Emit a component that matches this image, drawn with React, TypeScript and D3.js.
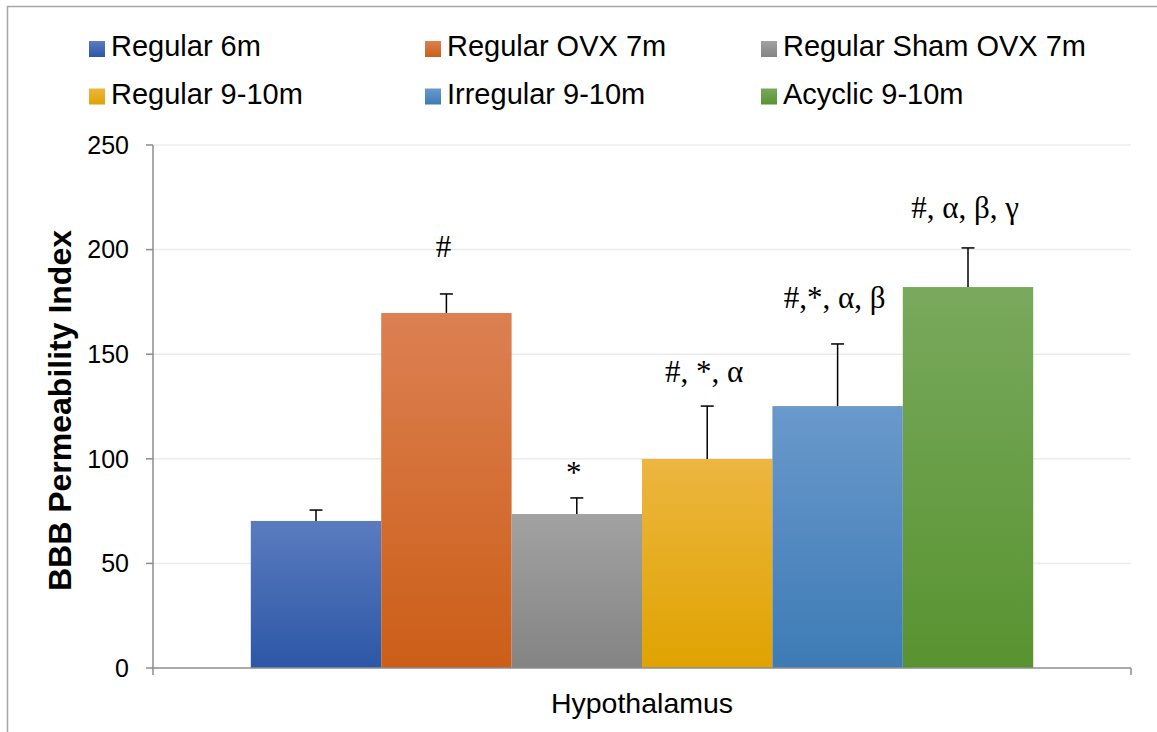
import * as d3 from 'd3';

const region = ['Hypothalamus'];
const groups = [
  'Regular 6m',
  'Regular OVX 7m',
  'Regular Sham OVX 7m',
  'Regular 9-10m',
  'Irregular 9-10m',
  'Acyclic 9-10m',
];
const means = [70.3, 169.7, 73.6, 99.9, 125.2, 182.1];
const errors = [5.2, 9.1, 7.7, 25.3, 29.7, 18.7];
const marks = ['', '#', '*', '#, *, α', '#,*, α, β', '#, α, β, γ'];
const markAt = [0, 196.5, 88.4, 136.7, 172, 215];
const yTicks = [0, 50, 100, 150, 200, 250];

// gradient stops per series, top then bottom
const colorsTop = ['#5a7bbf', '#dc8052', '#a2a2a2', '#ecb640', '#6a99cc', '#79a95d'];
const colorsBottom = ['#2c57a6', '#cc5e17', '#848484', '#e0a300', '#3d7bb5', '#589330'];

const width = 1157;
const height = 732;
const margin = { top: 145, right: 26, bottom: 64, left: 153 };

export default function App() {
  const x0 = d3
    .scaleBand()
    .domain(region)
    .range([margin.left, width - margin.right])
    .paddingOuter(0.125);

  const x1 = d3.scaleBand().domain(groups).range([0, x0.bandwidth()]).padding(0);

  const y = d3
    .scaleLinear()
    .domain([0, 250])
    .range([height - margin.bottom, margin.top]);

  const sans = '"Liberation Sans", Arial, sans-serif';
  const serif = '"Liberation Serif", "Times New Roman", serif';
  const y0 = y(0);
  const xLeft = margin.left;
  const xRight = width - margin.right;

  return (
    <div style={{ position: 'absolute', left: 0, top: 0 }}>
      <svg width={width} height={height} style={{ display: 'block' }}>
        <defs>
          {groups.map((g, i) => (
            <linearGradient key={g} id={`grad${i}`} x1='0' y1='0' x2='0' y2='1'>
              <stop offset='0%' stopColor={colorsTop[i]} />
              <stop offset='100%' stopColor={colorsBottom[i]} />
            </linearGradient>
          ))}
        </defs>

        {/* outer frame */}
        <rect x={7.5} y={6.5} width={1300} height={900} fill='#fff' stroke='#a6a6a6' strokeWidth={1.5} />

        {/* legend */}
        {groups.map((g, i) => {
          const col = i % 3;
          const row = Math.floor(i / 3);
          const lx = 89 + col * 336;
          const ly = 56 + row * 47.5;
          return (
            <g key={g}>
              <rect x={lx} y={ly - 15} width={16} height={16} fill={`url(#grad${i})`} />
              <text x={lx + 22} y={ly} fontFamily={sans} fontSize={29} fill='#000'>
                {g}
              </text>
            </g>
          );
        })}

        {/* gridlines */}
        {yTicks
          .filter((t) => t > 0)
          .map((t) => (
            <line key={t} x1={xLeft} x2={xRight} y1={y(t)} y2={y(t)} stroke='#ececec' strokeWidth={1.5} />
          ))}

        {/* bars */}
        {groups.map((g, i) => {
          const bx = x0(region[0])! + x1(g)!;
          return (
            <rect
              key={g}
              x={bx}
              y={y(means[i])}
              width={x1.bandwidth()}
              height={y0 - y(means[i])}
              fill={`url(#grad${i})`}
            />
          );
        })}

        {/* error bars */}
        {groups.map((g, i) => {
          const cx = x0(region[0])! + x1(g)! + x1.bandwidth() / 2;
          const top = y(means[i] + errors[i]);
          return (
            <g key={g} stroke='#000' strokeWidth={1.5}>
              <line x1={cx} x2={cx} y1={y(means[i])} y2={top} />
              <line x1={cx - 6.5} x2={cx + 6.5} y1={top} y2={top} />
            </g>
          );
        })}

        {/* significance marks */}
        {groups.map((g, i) =>
          marks[i] ? (
            <text
              key={g}
              x={x0(region[0])! + x1(g)! + x1.bandwidth() / 2 - 3}
              y={y(markAt[i])}
              textAnchor='middle'
              fontFamily={serif}
              fontSize={31}
              fill='#000'
            >
              {marks[i]}
            </text>
          ) : null
        )}

        {/* y axis */}
        <line x1={xLeft} x2={xLeft} y1={y(250)} y2={y0 + 7} stroke='#8c8c8c' strokeWidth={1.5} />
        {yTicks.map((t) => (
          <g key={t}>
            <line x1={xLeft - 7} x2={xLeft} y1={y(t)} y2={y(t)} stroke='#8c8c8c' strokeWidth={1.5} />
            <text
              x={xLeft - 24}
              y={y(t)}
              dy='0.35em'
              textAnchor='end'
              fontFamily={sans}
              fontSize={25}
              fill='#000'
            >
              {t}
            </text>
          </g>
        ))}

        {/* x axis */}
        <line x1={xLeft} x2={xRight} y1={y0} y2={y0} stroke='#8c8c8c' strokeWidth={1.5} />
        <line x1={xRight} x2={xRight} y1={y0} y2={y0 + 7} stroke='#8c8c8c' strokeWidth={1.5} />
        <text
          x={x0(region[0])! + x0.bandwidth() / 2}
          y={713}
          textAnchor='middle'
          fontFamily={sans}
          fontSize={28.5}
          fill='#000'
        >
          {region[0]}
        </text>

        {/* y axis title */}
        <text
          transform={`translate(71,${(y0 + y(250)) / 2 + 4}) rotate(-90)`}
          textAnchor='middle'
          fontFamily={sans}
          fontSize={32}
          fontWeight='bold'
          fill='#000'
        >
          BBB Permeability Index
        </text>
      </svg>
    </div>
  );
}
